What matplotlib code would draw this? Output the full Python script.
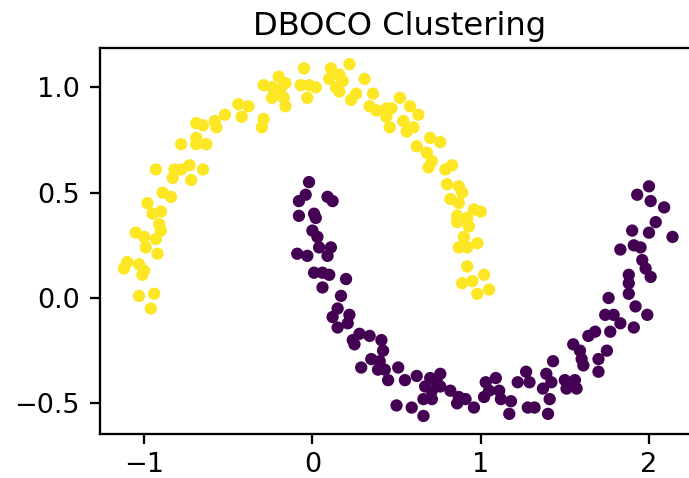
import numpy as np
import matplotlib
matplotlib.use("Agg")
import matplotlib.pyplot as plt

# Upper moon (cluster label 1, yellow)
moon_upper_x = [-0.98, -0.95, -0.90, -0.91, -0.90, -1.05, -1.00, -0.93, -0.99, -0.92,
                -1.10, -1.12, -1.03, -1.01, -1.00, -1.03, -0.94, -0.96, -0.84, -0.89,
                -0.93, -0.82, -0.78, -0.73, -0.65, -0.83, -0.72, -0.78, -0.69, -0.63,
                -0.69, -0.69, -0.65, -0.58, -0.52, -0.57, -0.44, -0.38, -0.42, -0.30,
                -0.29, -0.29, -0.24, -0.20, -0.16, -0.19, -0.24, -0.17, -0.16, -0.05,
                -0.07, -0.02, 0.02, -0.03, 0.11, 0.10, 0.16, 0.18, 0.14, 0.16,
                0.22, 0.31, 0.26, 0.23, 0.36, 0.34, 0.38, 0.52, 0.44, 0.47,
                0.44, 0.46, 0.58, 0.63, 0.54, 0.60, 0.56, 0.70, 0.76, 0.62,
                0.68, 0.71, 0.69, 0.83, 0.79, 0.80, 0.87, 0.89, 0.82, 0.87,
                0.96, 1.00, 0.86, 0.86, 0.92, 0.93, 0.90, 0.87, 0.92, 0.98,
                0.92, 0.89, 0.95, 1.02, 0.98, 1.05]
moon_upper_y = [0.45, 0.40, 0.41, 0.35, 0.32, 0.31, 0.29, 0.28, 0.24, 0.21,
                0.17, 0.14, 0.16, 0.11, 0.13, 0.01, 0.02, -0.05, 0.48, 0.50,
                0.61, 0.61, 0.61, 0.63, 0.61, 0.57, 0.56, 0.73, 0.73, 0.73,
                0.76, 0.83, 0.82, 0.84, 0.87, 0.81, 0.92, 0.91, 0.86, 0.81,
                0.85, 1.01, 1.00, 1.05, 1.02, 0.99, 0.95, 0.95, 0.91, 1.09,
                1.01, 1.01, 1.00, 0.95, 1.09, 1.04, 1.06, 1.03, 1.00, 0.98,
                1.11, 1.04, 0.97, 0.94, 0.97, 0.91, 0.89, 0.95, 0.90, 0.90,
                0.86, 0.81, 0.91, 0.87, 0.84, 0.81, 0.79, 0.76, 0.74, 0.72,
                0.69, 0.65, 0.62, 0.63, 0.61, 0.54, 0.53, 0.50, 0.47, 0.45,
                0.42, 0.41, 0.39, 0.36, 0.38, 0.34, 0.29, 0.24, 0.24, 0.26,
                0.15, 0.07, 0.08, 0.11, 0.02, 0.04]

# Lower moon (cluster label 0, purple)
moon_lower_x = [-0.02, -0.04, -0.08, 0.09, 0.12, -0.08, 0.01, 0.02, 0.00, 0.03,
                0.04, -0.09, -0.03, 0.09, 0.11, 0.01, 0.06, 0.10, 0.20, 0.06,
                0.17, 0.15, 0.12, 0.22, 0.15, 0.21, 0.28, 0.34, 0.24, 0.25,
                0.41, 0.42, 0.35, 0.29, 0.40, 0.43, 0.39, 0.51, 0.45, 0.55,
                0.62, 0.70, 0.76, 0.67, 0.74, 0.71, 0.76, 0.82, 0.66, 0.71,
                0.50, 0.59, 0.66, 0.87, 0.86, 0.91, 0.96, 1.02, 1.03, 1.09,
                1.05, 1.11, 1.12, 1.18, 1.17, 1.22, 1.27, 1.29, 1.28, 1.32,
                1.40, 1.43, 1.39, 1.42, 1.37, 1.41, 1.50, 1.51, 1.56, 1.57,
                1.55, 1.59, 1.60, 1.61, 1.70, 1.70, 1.75, 1.64, 1.68, 1.77,
                1.74, 1.79, 1.83, 1.91, 1.92, 1.99, 1.76, 2.00, 1.93, 2.01,
                2.09, 2.04, 2.00, 2.14, 1.90, 1.83, 1.91, 1.95, 1.96, 1.98,
                2.01, 1.88, 1.88, 1.88]
moon_lower_y = [0.55, 0.49, 0.46, 0.48, 0.46, 0.39, 0.40, 0.38, 0.32, 0.29,
                0.24, 0.21, 0.20, 0.20, 0.24, 0.12, 0.12, 0.11, 0.09, 0.05,
                0.01, -0.05, -0.09, -0.08, -0.14, -0.12, -0.17, -0.18, -0.20, -0.22,
                -0.20, -0.25, -0.29, -0.33, -0.30, -0.34, -0.34, -0.33, -0.39, -0.39,
                -0.37, -0.38, -0.36, -0.42, -0.40, -0.44, -0.42, -0.44, -0.48, -0.48,
                -0.51, -0.52, -0.56, -0.47, -0.50, -0.48, -0.52, -0.47, -0.40, -0.38,
                -0.44, -0.44, -0.48, -0.49, -0.55, -0.40, -0.35, -0.40, -0.52, -0.52,
                -0.55, -0.30, -0.36, -0.40, -0.43, -0.48, -0.39, -0.43, -0.39, -0.43,
                -0.22, -0.25, -0.29, -0.32, -0.35, -0.29, -0.25, -0.18, -0.16, -0.16,
                -0.08, -0.08, -0.12, -0.14, -0.04, -0.08, 0.00, 0.53, 0.49, 0.46,
                0.43, 0.36, 0.31, 0.29, 0.32, 0.23, 0.25, 0.24, 0.18, 0.14,
                0.10, 0.11, 0.07, 0.02]

x_ticks = [-1, 0, 1, 2]
y_ticks = [-0.5, 0.0, 0.5, 1.0]

x = np.array(moon_lower_x + moon_upper_x)
y = np.array(moon_lower_y + moon_upper_y)
labels = np.array([0] * len(moon_lower_x) + [1] * len(moon_upper_x))

fig = plt.figure(figsize=(689 / 150, 478 / 150), dpi=150)
ax = fig.add_axes([100 / 689, 43.7 / 478, 599.8 / 689, 386.6 / 478])
ax.scatter(x, y, c=labels, cmap="viridis", s=24)
ax.set_xlim(-1.262, 2.302)
ax.set_ylim(-0.647, 1.188)
ax.set_xticks(x_ticks)
ax.set_yticks(y_ticks)
ax.tick_params(labelsize=13, length=4.8, width=1.1, pad=4.8)
ax.tick_params(axis="x", pad=3.6)
for sp in ax.spines.values():
    sp.set_linewidth(1.1)
ax.set_title("DBOCO Clustering", fontsize=15.5, pad=6)
fig.savefig("out.png", dpi=150)
